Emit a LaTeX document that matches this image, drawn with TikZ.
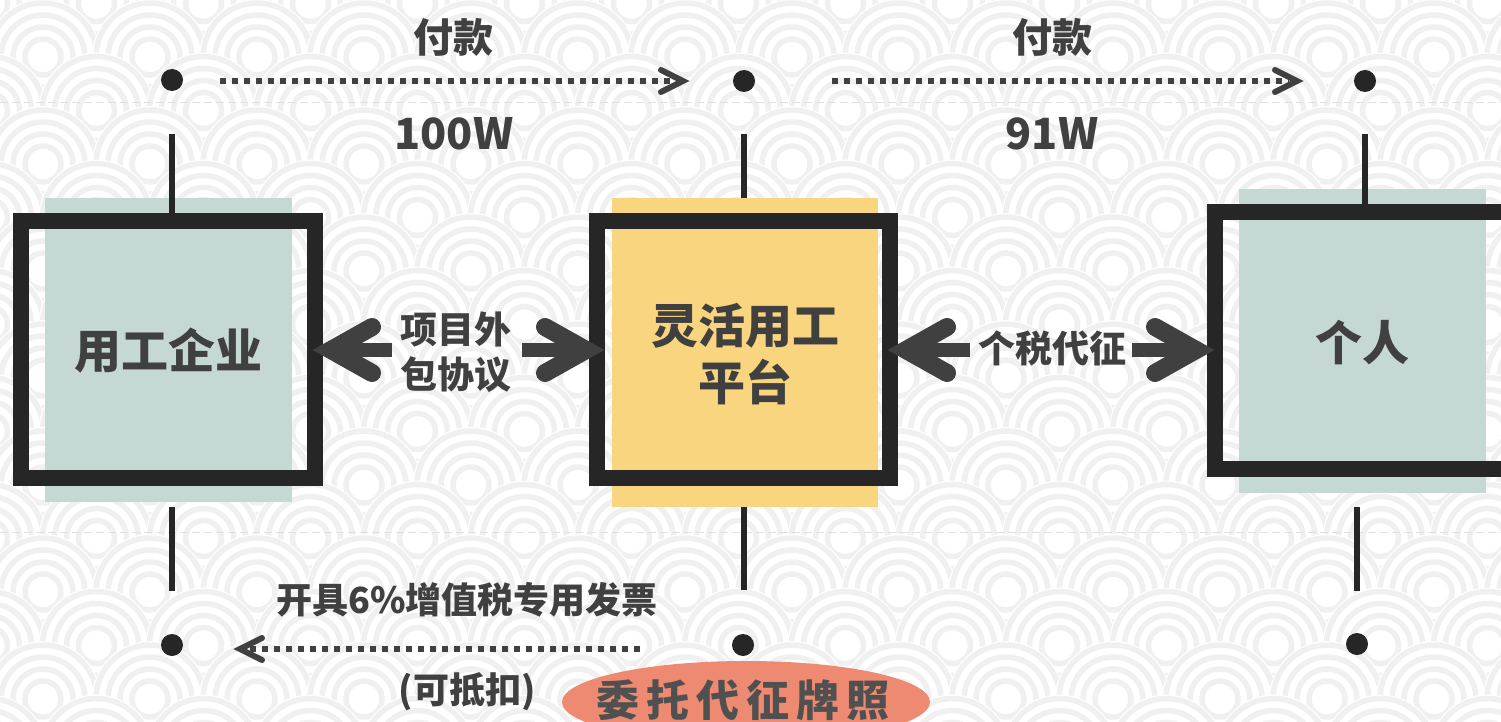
\documentclass[tikz,border=0pt]{standalone}
\usepackage{fontspec}
\usetikzlibrary{calc,shapes.geometric}
\newfontfamily\cjk{Noto Sans CJK SC}
\newfontfamily\cjkspaced{Noto Sans CJK SC}[LetterSpace=16]
\definecolor{patc}{HTML}{F0F0F0}
\definecolor{framec}{HTML}{262626}
\definecolor{arrowc}{HTML}{404040}
\definecolor{txtc}{HTML}{404040}
\definecolor{greenc}{HTML}{C5D8D3}
\definecolor{yellowc}{HTML}{F9D580}
\definecolor{salmonc}{HTML}{EE8A72}
\definecolor{ovaltxt}{HTML}{505050}
\tikzset{
  pat/.style={draw=patc, line width=5.5pt},
  dot/.style={circle, fill=framec, minimum size=22pt, inner sep=0pt},
  frame/.style={draw=framec, line width=16pt, inner sep=0pt},
  fillbox/.style={inner sep=0pt, draw=none},
  vline/.style={draw=framec, line width=6pt},
  dotline/.style={draw=arrowc, line width=6pt, dash pattern=on 6pt off 6pt},
  chevron/.style={draw=arrowc, line width=6pt, line cap=round, line join=miter},
  bigarm/.style={draw=arrowc, line width=18pt, line cap=round, line join=miter},
  shaft/.style={draw=arrowc, line width=14pt},
  lbl/.style={text=txtc, inner sep=0pt, align=center},
}
\begin{document}
\begin{tikzpicture}[x=1pt,y=-1pt]
\useasboundingbox (0,0) rectangle (1501,722);
\begin{scope}
\clip (0,0) rectangle (1501,722);
\fill[white] (0,0) rectangle (1501,722);
% seigaiha background
\foreach \k in {0,...,14} {
  \pgfmathsetmacro{\off}{mod(\k,2)==0 ? 53.5 : 0}
  \foreach \i in {-1,...,14} {
    \pgfmathsetmacro{\cx}{43+\off+107*\i}
    \pgfmathsetmacro{\cy}{3.5+53.5*\k}
    \fill[white] (\cx,\cy) circle[radius=58];
    \foreach \r in {18,30,42,54} \draw[pat] (\cx,\cy) circle[radius=\r];
  }
}
\draw[draw=black!12, line width=1pt, dash pattern=on 8pt off 4pt] (0,103) -- (1501,103);
\draw[draw=black!12, line width=1pt, dash pattern=on 8pt off 4pt] (0,532) -- (1501,532);

% fills
\node[fillbox, fill=greenc, minimum width=247pt, minimum height=304pt] (g1) at (168.5,350) {};
\node[fillbox, fill=yellowc, minimum width=266pt, minimum height=309pt] (g2) at (745,352.5) {};
\node[fillbox, fill=greenc, minimum width=247pt, minimum height=304pt] (g3) at (1362.5,341) {};

% dots
\node[dot] (d1) at (172,80) {};
\node[dot] (d2) at (744,81) {};
\node[dot] (d3) at (1365,81) {};
\node[dot] (d4) at (172,645) {};
\node[dot] (d5) at (743,645) {};
\node[dot] (d6) at (1357,644) {};

% vertical lines
\coordinate (t1a) at (172,134); \coordinate (t1b) at (172,214);
\coordinate (t2a) at (744,134); \coordinate (t2b) at (744,198);
\coordinate (t3a) at (1365,134); \coordinate (t3b) at (1365,205);
\coordinate (b1a) at (172,507); \coordinate (b1b) at (172,591);
\coordinate (b2a) at (744,507); \coordinate (b2b) at (744,590);
\coordinate (b3a) at (1357,507); \coordinate (b3b) at (1357,591);
\draw[vline] (t1a) -- (t1b);
\draw[vline] (t2a) -- (t2b);
\draw[vline] (t3a) -- (t3b);
\draw[vline] (b1a) -- (b1b);
\draw[vline] (b2a) -- (b2b);
\draw[vline] (b3a) -- (b3b);

% frames
\node[frame, minimum width=294pt, minimum height=257pt] (f1) at (168,349.5) {};
\node[frame, minimum width=293pt, minimum height=257pt] (f2) at (743.5,349.5) {};
\node[frame, minimum width=315pt, minimum height=257pt] (f3) at (1372.5,340.5) {};

% dotted arrows
\coordinate (p1s) at (220,81); \coordinate (p1e) at (683,81);
\coordinate (p2s) at (832,81); \coordinate (p2e) at (1297,81);
\coordinate (p3s) at (640,649); \coordinate (p3e) at (240,649);
\draw[dotline] (p1s) -- ($(p1e)+(-8,0)$);
\draw[chevron] ($(p1e)+(-22,-11)$) -- (p1e) -- ($(p1e)+(-22,11)$);
\draw[dotline] (p2s) -- ($(p2e)+(-8,0)$);
\draw[chevron] ($(p2e)+(-22,-11)$) -- (p2e) -- ($(p2e)+(-22,11)$);
\draw[dotline] (p3s) -- ($(p3e)+(8,0)$);
\draw[chevron] ($(p3e)+(22,-11)$) -- (p3e) -- ($(p3e)+(22,11)$);

% big double arrows
\coordinate (a1) at (331,350); \coordinate (a1s) at (392,350);
\coordinate (a2) at (586,350); \coordinate (a2s) at (522,350);
\coordinate (a3) at (906,350); \coordinate (a3s) at (970,350);
\coordinate (a4) at (1196,350); \coordinate (a4s) at (1132,350);
\draw[shaft] (a1) -- (a1s);
\draw[bigarm] ($(a1)+(41,-23)$) -- (a1) -- ($(a1)+(41,23)$);
\draw[shaft] (a2s) -- (a2);
\draw[bigarm] ($(a2)+(-41,-23)$) -- (a2) -- ($(a2)+(-41,23)$);
\draw[shaft] (a3) -- (a3s);
\draw[bigarm] ($(a3)+(41,-23)$) -- (a3) -- ($(a3)+(41,23)$);
\draw[shaft] (a4s) -- (a4);
\draw[bigarm] ($(a4)+(-41,-23)$) -- (a4) -- ($(a4)+(-41,23)$);

% oval
\node[ellipse, fill=salmonc, minimum width=368pt, minimum height=82pt, inner sep=0pt] (ov) at (746,702) {};
\node[text=ovaltxt, inner sep=0pt, font=\cjkspaced\bfseries\fontsize{43}{50}\selectfont] (ovt) at (743,700) {委托代征牌照};

% labels
\node[lbl, font=\cjk\bfseries\fontsize{47}{57}\selectfont] (n1) at (168,351) {用工企业};
\node[lbl, font=\cjk\bfseries\fontsize{47}{57}\selectfont] (n2) at (745,354) {灵活用工\\平台};
\node[lbl, font=\cjk\bfseries\fontsize{47}{57}\selectfont] (n3) at (1362,343) {个人};
\node[lbl, font=\cjk\bfseries\fontsize{37}{45}\selectfont] (l1) at (456,352) {项目外\\包协议};
\node[lbl, font=\cjk\bfseries\fontsize{37}{45}\selectfont] (l2) at (1052,348) {个税代征};
\node[lbl, font=\cjk\bfseries\fontsize{40}{48}\selectfont] (u1) at (453,37) {付款};
\node[lbl, font=\cjk\bfseries\fontsize{40}{48}\selectfont] (u2) at (1052,37) {付款};
\node[lbl, font=\cjk\bfseries\fontsize{43}{48}\selectfont] (m1) at (454,134) {100W};
\node[lbl, font=\cjk\bfseries\fontsize{43}{48}\selectfont] (m2) at (1052,134) {91W};
\node[lbl, font=\cjk\bfseries\fontsize{36}{44}\selectfont] (i1) at (467,600) {开具6\%增值税专用发票};
\node[lbl, font=\cjk\bfseries\fontsize{36}{44}\selectfont] (i2) at (467,692) {(可抵扣)};
\end{scope}
\end{tikzpicture}
\end{document}
